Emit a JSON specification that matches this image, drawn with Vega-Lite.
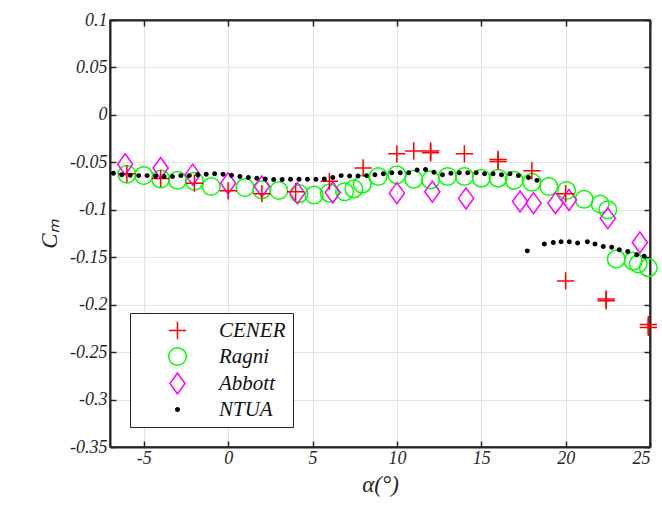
{
  "$schema": "https://vega.github.io/schema/vega-lite/v6.json",
  "width": 540,
  "height": 427,
  "autosize": "none",
  "padding": {"left": 110, "top": 20, "right": 12, "bottom": 65},
  "config": {
    "view": {"stroke": "#262626", "strokeWidth": 1.5},
    "axis": {
      "labelFont": "Liberation Serif", "labelFontStyle": "italic", "labelFontSize": 18, "labelColor": "#262626",
      "titleFont": "Liberation Serif", "titleFontStyle": "italic", "titleFontWeight": "normal", "titleFontSize": 23, "titleColor": "#262626",
      "domainColor": "#262626", "domainWidth": 2, "tickColor": "#262626", "tickWidth": 1.5, "gridColor": "#e3e3e3", "gridWidth": 1
    },
    "legend": {
      "orient": "none", "legendX": 20, "legendY": 293,
      "strokeColor": "#262626", "fillColor": "white", "padding": 7,
      "labelFont": "Liberation Serif", "labelFontStyle": "italic", "labelFontSize": 21, "labelColor": "#111",
      "symbolStrokeWidth": 1.5, "symbolOffset": 29, "labelOffset": 30, "rowPadding": 1
    }
  },
  "data": {"values": [
    {"s":"Ragni","a":-6,"cm":-0.0625},{"s":"Ragni","a":-5,"cm":-0.064},{"s":"Ragni","a":-4,"cm":-0.0675},{"s":"Ragni","a":-3,"cm":-0.069},{"s":"Ragni","a":-2,"cm":-0.070},{"s":"Ragni","a":-1,"cm":-0.0755},{"s":"Ragni","a":1,"cm":-0.0766},{"s":"Ragni","a":2,"cm":-0.079},{"s":"Ragni","a":3,"cm":-0.0797},{"s":"Ragni","a":4.2,"cm":-0.083},{"s":"Ragni","a":5.1,"cm":-0.0845},{"s":"Ragni","a":6.0,"cm":-0.0825},{"s":"Ragni","a":6.9,"cm":-0.081},{"s":"Ragni","a":7.45,"cm":-0.078},{"s":"Ragni","a":7.95,"cm":-0.073},{"s":"Ragni","a":8.9,"cm":-0.065},{"s":"Ragni","a":10.0,"cm":-0.0632},{"s":"Ragni","a":11.0,"cm":-0.0678},{"s":"Ragni","a":12.0,"cm":-0.0685},{"s":"Ragni","a":13.0,"cm":-0.065},{"s":"Ragni","a":14.0,"cm":-0.065},{"s":"Ragni","a":15.0,"cm":-0.0667},{"s":"Ragni","a":16.0,"cm":-0.0667},{"s":"Ragni","a":16.95,"cm":-0.069},{"s":"Ragni","a":18.0,"cm":-0.071},{"s":"Ragni","a":19.0,"cm":-0.0755},{"s":"Ragni","a":20.05,"cm":-0.0797},{"s":"Ragni","a":21.1,"cm":-0.0889},{"s":"Ragni","a":22.05,"cm":-0.094},{"s":"Ragni","a":22.5,"cm":-0.100},{"s":"Ragni","a":23.0,"cm":-0.152},{"s":"Ragni","a":24.0,"cm":-0.154},{"s":"Ragni","a":24.3,"cm":-0.157},{"s":"Ragni","a":24.9,"cm":-0.161},
    {"s":"Abbott","a":-6.1,"cm":-0.052},{"s":"Abbott","a":-4.0,"cm":-0.056},{"s":"Abbott","a":-2.1,"cm":-0.063},{"s":"Abbott","a":0.0,"cm":-0.072},{"s":"Abbott","a":2.0,"cm":-0.0755},{"s":"Abbott","a":4.1,"cm":-0.0825},{"s":"Abbott","a":6.2,"cm":-0.0818},{"s":"Abbott","a":10.0,"cm":-0.0825},{"s":"Abbott","a":12.1,"cm":-0.081},{"s":"Abbott","a":14.1,"cm":-0.088},{"s":"Abbott","a":17.3,"cm":-0.0913},{"s":"Abbott","a":18.1,"cm":-0.093},{"s":"Abbott","a":19.4,"cm":-0.093},{"s":"Abbott","a":20.2,"cm":-0.0896},{"s":"Abbott","a":22.5,"cm":-0.109},{"s":"Abbott","a":24.4,"cm":-0.1345},
    {"s":"CENER","a":-6,"cm":-0.062},{"s":"CENER","a":-4,"cm":-0.067},{"s":"CENER","a":-2,"cm":-0.072},{"s":"CENER","a":0,"cm":-0.080},{"s":"CENER","a":2,"cm":-0.083},{"s":"CENER","a":4,"cm":-0.081},{"s":"CENER","a":6,"cm":-0.070},{"s":"CENER","a":8,"cm":-0.056},{"s":"CENER","a":10,"cm":-0.041},{"s":"CENER","a":11,"cm":-0.038},{"s":"CENER","a":12,"cm":-0.038},{"s":"CENER","a":12,"cm":-0.040},{"s":"CENER","a":14,"cm":-0.041},{"s":"CENER","a":16,"cm":-0.047},{"s":"CENER","a":16,"cm":-0.049},{"s":"CENER","a":18,"cm":-0.059},{"s":"CENER","a":20,"cm":-0.083},{"s":"CENER","a":20,"cm":-0.175},{"s":"CENER","a":22.4,"cm":-0.194},{"s":"CENER","a":22.4,"cm":-0.196},{"s":"CENER","a":24.9,"cm":-0.221},{"s":"CENER","a":24.9,"cm":-0.224},
    {"s":"NTUA","a":-6.8,"cm":-0.0615},{"s":"NTUA","a":-6.3,"cm":-0.063},{"s":"NTUA","a":-5.8,"cm":-0.0635},{"s":"NTUA","a":-5.3,"cm":-0.064},{"s":"NTUA","a":-4.8,"cm":-0.064},{"s":"NTUA","a":-4.3,"cm":-0.0645},{"s":"NTUA","a":-3.8,"cm":-0.065},{"s":"NTUA","a":-3.3,"cm":-0.065},{"s":"NTUA","a":-2.8,"cm":-0.064},{"s":"NTUA","a":-2.3,"cm":-0.064},{"s":"NTUA","a":-1.8,"cm":-0.063},{"s":"NTUA","a":-1.3,"cm":-0.0625},{"s":"NTUA","a":-0.8,"cm":-0.062},{"s":"NTUA","a":-0.3,"cm":-0.0625},{"s":"NTUA","a":0.2,"cm":-0.0635},{"s":"NTUA","a":0.7,"cm":-0.065},{"s":"NTUA","a":1.2,"cm":-0.066},{"s":"NTUA","a":1.7,"cm":-0.0667},{"s":"NTUA","a":2.2,"cm":-0.0675},{"s":"NTUA","a":2.7,"cm":-0.068},{"s":"NTUA","a":3.2,"cm":-0.068},{"s":"NTUA","a":3.7,"cm":-0.0678},{"s":"NTUA","a":4.2,"cm":-0.0678},{"s":"NTUA","a":4.7,"cm":-0.0678},{"s":"NTUA","a":5.2,"cm":-0.0678},{"s":"NTUA","a":5.7,"cm":-0.0675},{"s":"NTUA","a":6.2,"cm":-0.066},{"s":"NTUA","a":6.7,"cm":-0.064},{"s":"NTUA","a":7.2,"cm":-0.0645},{"s":"NTUA","a":7.7,"cm":-0.0645},{"s":"NTUA","a":8.2,"cm":-0.064},{"s":"NTUA","a":8.7,"cm":-0.063},{"s":"NTUA","a":9.2,"cm":-0.062},{"s":"NTUA","a":9.7,"cm":-0.061},{"s":"NTUA","a":10.2,"cm":-0.061},{"s":"NTUA","a":10.7,"cm":-0.061},{"s":"NTUA","a":11.2,"cm":-0.058},{"s":"NTUA","a":11.7,"cm":-0.0575},{"s":"NTUA","a":12.2,"cm":-0.0605},{"s":"NTUA","a":12.7,"cm":-0.063},{"s":"NTUA","a":13.2,"cm":-0.0615},{"s":"NTUA","a":13.7,"cm":-0.061},{"s":"NTUA","a":14.2,"cm":-0.061},{"s":"NTUA","a":14.7,"cm":-0.061},{"s":"NTUA","a":15.2,"cm":-0.062},{"s":"NTUA","a":15.7,"cm":-0.062},{"s":"NTUA","a":16.2,"cm":-0.063},{"s":"NTUA","a":16.7,"cm":-0.062},{"s":"NTUA","a":17.2,"cm":-0.064},{"s":"NTUA","a":17.8,"cm":-0.066},{"s":"NTUA","a":18.3,"cm":-0.069},
    {"s":"NTUA","a":17.73,"cm":-0.1433},{"s":"NTUA","a":18.74,"cm":-0.136},{"s":"NTUA","a":19.27,"cm":-0.1345},{"s":"NTUA","a":19.73,"cm":-0.1338},{"s":"NTUA","a":20.22,"cm":-0.1338},{"s":"NTUA","a":20.71,"cm":-0.1349},{"s":"NTUA","a":21.29,"cm":-0.1338},{"s":"NTUA","a":21.74,"cm":-0.136},{"s":"NTUA","a":22.23,"cm":-0.1387},{"s":"NTUA","a":22.73,"cm":-0.1394},{"s":"NTUA","a":23.18,"cm":-0.1422},{"s":"NTUA","a":23.68,"cm":-0.144},{"s":"NTUA","a":24.21,"cm":-0.1475},{"s":"NTUA","a":24.66,"cm":-0.149}
  ]},
  "layer": [
    {
      "mark": {"type": "point", "strokeWidth": 1.5, "opacity": 1},
      "encoding": {
        "x": {"field": "a", "type": "quantitative", "scale": {"domain": [-7, 25], "nice": false, "zero": false},
              "axis": {"title": "α(°)", "values": [-5, 0, 5, 10, 15, 20, 25], "tickSize": -6, "labelPadding": 8, "titlePadding": 6, "grid": true,
                       "labelFont": "Liberation Serif", "labelFontStyle": "italic", "labelFontSize": 18,
                       "labelExpr": "replace(format(datum.value, '.2~f'), '\u2212', '-')"}},
        "y": {"field": "cm", "type": "quantitative", "scale": {"domain": [-0.35, 0.1], "nice": false, "zero": false},
              "axis": {"title": "Cₘ", "values": [0.1, 0.05, 0, -0.05, -0.1, -0.15, -0.2, -0.25, -0.3, -0.35], "tickSize": -6, "labelPadding": 9, "titlePadding": 8, "grid": true,
                       "labelFont": "Liberation Serif", "labelFontStyle": "italic", "labelFontSize": 18,
                       "labelExpr": "replace(format(datum.value, '.2~f'), '\u2212', '-')"}},
        "shape": {"field": "s", "type": "nominal", "title": null,
                  "scale": {"domain": ["CENER", "Ragni", "Abbott", "NTUA"], "range": ["M-1,0L1,0M0,-1L0,1", "circle", "M0,-1L0.72,0L0,1L-0.72,0Z", "circle"]}},
        "stroke": {"field": "s", "type": "nominal", "title": null,
                   "scale": {"domain": ["CENER", "Ragni", "Abbott", "NTUA"], "range": ["#ff0000", "#00ff00", "#ff00ff", "#000000"]}},
        "fill": {"field": "s", "type": "nominal", "title": null,
                 "scale": {"domain": ["CENER", "Ragni", "Abbott", "NTUA"], "range": ["transparent", "transparent", "transparent", "#000000"]}},
        "size": {"field": "s", "type": "nominal", "title": null,
                 "scale": {"type": "ordinal", "domain": ["CENER", "Ragni", "Abbott", "NTUA"], "range": [300, 310, 440, 12]}}
      }
    },
    {
      "mark": {"type": "point", "opacity": 0},
      "encoding": {
        "x": {"field": "a", "type": "quantitative", "axis": {"orient": "top", "title": null, "labels": false, "values": [-5, 0, 5, 10, 15, 20, 25], "tickSize": -6, "grid": false}},
        "y": {"field": "cm", "type": "quantitative", "axis": {"orient": "right", "title": null, "labels": false, "values": [0.1, 0.05, 0, -0.05, -0.1, -0.15, -0.2, -0.25, -0.3, -0.35], "tickSize": -6, "grid": false}}
      }
    }
  ],
  "resolve": {"axis": {"x": "independent", "y": "independent"}}
}
